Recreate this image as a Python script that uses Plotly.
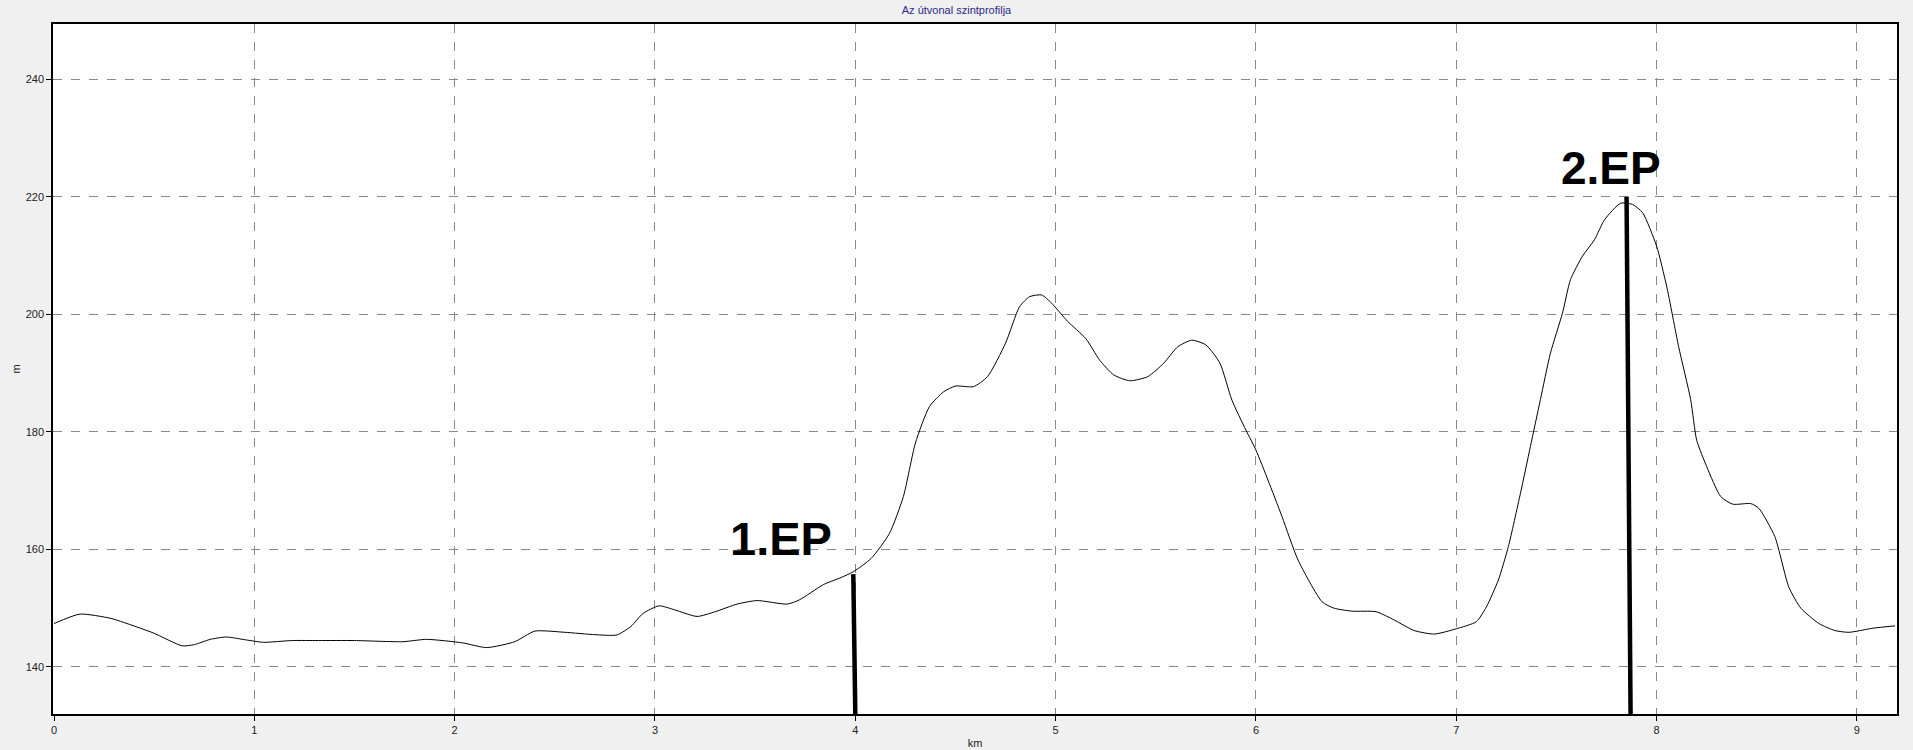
import plotly.graph_objects as go

# Elevation profile (km, m)
km = [0.0, 0.13, 0.28, 0.32, 0.495, 0.64, 0.7, 0.78, 0.86, 0.96, 1.045, 1.19,
      1.32, 1.5, 1.74, 1.86, 2.04, 2.16, 2.3, 2.4, 2.55, 2.7, 2.81, 2.88, 2.94,
      3.02, 3.10, 3.21, 3.30, 3.41, 3.51, 3.66, 3.72, 3.84, 3.92, 3.99, 4.08,
      4.17, 4.24, 4.30, 4.37, 4.44, 4.50, 4.59, 4.66, 4.75, 4.82, 4.87, 4.93,
      4.98, 5.06, 5.15, 5.22, 5.29, 5.37, 5.46, 5.54, 5.61, 5.68, 5.75, 5.82,
      5.88, 5.95, 6.0, 6.06, 6.13, 6.21, 6.33, 6.39, 6.48, 6.60, 6.69, 6.79,
      6.89, 7.0, 7.10, 7.15, 7.21, 7.26, 7.32, 7.37, 7.42, 7.47, 7.53, 7.57,
      7.63, 7.69, 7.74, 7.82, 7.88, 7.93, 8.0, 8.05, 8.11, 8.17, 8.20, 8.25,
      8.32, 8.38, 8.47, 8.51, 8.59, 8.66, 8.72, 8.81, 8.89, 8.96, 9.08, 9.19]
elevation = [147.4, 149.0, 148.3, 147.9, 145.8, 143.6, 143.8, 144.7, 145.1, 144.6,
             144.2, 144.5, 144.5, 144.5, 144.3, 144.7, 144.1, 143.3, 144.3, 146.1,
             145.9, 145.5, 145.45, 146.9, 149.1, 150.4, 149.7, 148.6, 149.4, 150.7,
             151.3, 150.7, 151.4, 154.0, 155.1, 156.2, 158.5, 162.7, 169.0, 178.1,
             184.3, 186.8, 187.8, 187.7, 189.4, 195.1, 201.3, 203.0, 203.3, 201.9,
             198.8, 195.9, 192.2, 189.7, 188.7, 189.4, 191.7, 194.5, 195.6, 194.8,
             191.7, 185.4, 180.3, 176.9, 171.8, 165.6, 158.2, 151.1, 150.0, 149.5,
             149.4, 148.0, 146.2, 145.6, 146.5, 147.7, 150.2, 154.8, 160.5, 169.5,
             177.5, 185.5, 193.4, 200.2, 205.9, 209.9, 212.7, 216.1, 218.9, 218.7,
             217.3, 211.6, 204.8, 194.5, 185.5, 178.6, 174.1, 169.0, 167.7, 167.8,
             167.0, 162.2, 153.6, 150.0, 147.4, 146.2, 145.9, 146.6, 147.0]

# Hand-drawn markers
ep_labels = ["1.EP", "2.EP"]
ep_km_top = [3.99, 7.85]
ep_km_bottom = [4.0, 7.87]
ep_top = [155.8, 220.0]
ep_label_km = [3.63, 7.77]
ep_label_m = [161.9, 224.9]
ep_label_size = [47, 46]

x_ticks = list(range(0, 10))
y_ticks = [140, 160, 180, 200, 220, 240]

fig = go.Figure()
fig.add_trace(go.Scatter(x=km, y=elevation, mode="lines",
                         line=dict(color="black", width=1, shape="spline", smoothing=0.6),
                         showlegend=False))

for i in range(len(ep_labels)):
    fig.add_trace(go.Scatter(x=[ep_km_top[i], ep_km_bottom[i]], y=[ep_top[i], 132],
                             mode="lines", line=dict(color="black", width=4.5),
                             showlegend=False))
    fig.add_annotation(x=ep_label_km[i], y=ep_label_m[i], text="<b>%s</b>" % ep_labels[i],
                       showarrow=False,
                       font=dict(family="Liberation Sans", size=ep_label_size[i], color="black"))

axis_style = dict(showline=True, linecolor="black", linewidth=1.5, mirror=True,
                  ticks="outside", ticklen=5, tickcolor="black", automargin=False,
                  showgrid=True, gridcolor="#8a8a8a", griddash="dash", gridwidth=1,
                  zeroline=False, tickfont=dict(family="Liberation Sans", size=11, color="#222"))

fig.update_xaxes(range=[-0.005, 9.2], tickvals=x_ticks, title=dict(text="km", standoff=4,
                 font=dict(family="Liberation Sans", size=11, color="#222")), **axis_style)
fig.update_yaxes(range=[132.0, 249.4], tickvals=y_ticks, title=dict(text="m", standoff=3,
                 font=dict(family="Liberation Sans", size=11, color="#222")), **axis_style)

fig.update_layout(
    width=1913, height=750,
    margin=dict(l=53, r=16, t=24, b=36),
    paper_bgcolor="#f0f0f0", plot_bgcolor="white",
    title=dict(text="Az útvonal szintprofilja", x=0.5, y=0.992, xanchor="center", yanchor="top",
               font=dict(family="Liberation Sans", size=11, color="#2b2b8a")),
)

# drop the browser's default body margin so the figure sits at the page corner
fig.write_html("out.html", config={"displayModeBar": False},
               post_script="document.body.style.margin='0';"
                           "document.body.style.overflow='hidden';")
